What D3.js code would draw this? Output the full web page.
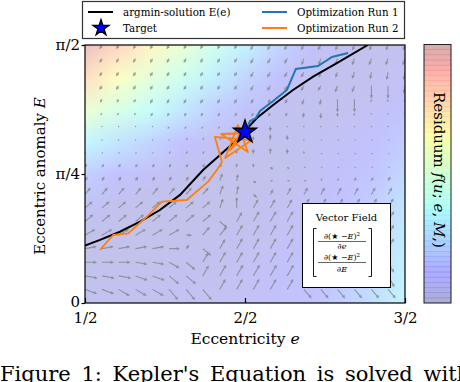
<!DOCTYPE html>
<html lang="en">
<head>
<meta charset="UTF-8">
<title>Kepler residual field</title>
<script src="https://d3js.org/d3.v7.min.js"></script>
<style>
  body { margin: 0; background: #fff; }
  svg { display: block; font-family: "DejaVu Serif", serif; }
</style>
</head>
<body>
<div id="chart"></div>
<script>
// ---- values ----
const eTicks = [0.5, 1, 1.5];
const eTickLabels = ["1/2", "2/2", "3/2"];
const ETicks = [0, Math.PI / 4, Math.PI / 2];
const ETickLabels = ["0", "π/4", "π/2"];

// argmin-solution E(e)
const curveEcc = [0.5, 0.547, 0.609, 0.672, 0.734, 0.797, 0.869, 0.922, 0.974, 1.037, 1.088, 1.150, 1.213, 1.287, 1.384];
const curveE   = [0.350, 0.384, 0.434, 0.495, 0.566, 0.658, 0.810, 0.901, 0.992, 1.126, 1.206, 1.297, 1.378, 1.461, 1.571];

// target
const targetEcc = 1.0;
const targetE = 1.041;

// optimization run 1 (blue)
const run1Ecc = [1.0, 1.016, 1.034, 1.047, 1.088, 1.131, 1.159, 1.228, 1.272, 1.322];
const run1E   = [1.041, 1.108, 1.126, 1.169, 1.230, 1.297, 1.425, 1.443, 1.498, 1.522];

// optimization run 2 (orange)
const run2Ecc = [0.547, 0.588, 0.635, 0.693, 0.740, 0.818, 0.885, 0.912, 0.928, 0.906, 1.022, 0.938, 0.978, 1.009, 0.925, 1.006, 0.953, 0.997, 1.0];
const run2E   = [0.323, 0.414, 0.424, 0.525, 0.617, 0.627, 0.739, 0.810, 0.858, 1.011, 0.992, 0.883, 1.084, 0.919, 1.029, 1.035, 0.931, 1.072, 1.041];

// residual background, level on the colour map (rows from E = pi/2 down to 0)
const resEcc = [0.5, 0.6, 0.7, 0.8, 0.9, 1.0, 1.1, 1.2, 1.3, 1.4, 1.5];
const resE = [Math.PI / 2, 7 * Math.PI / 16, 6 * Math.PI / 16, 5 * Math.PI / 16, 4 * Math.PI / 16,
              3 * Math.PI / 16, 2 * Math.PI / 16, Math.PI / 16, 0];
const resLevel = [
  [0.95, 0.82, 0.68, 0.55, 0.42, 0.32, 0.20, 0.10, 0.06, 0.05, 0.06],
  [0.78, 0.64, 0.52, 0.41, 0.31, 0.20, 0.10, 0.06, 0.05, 0.06, 0.08],
  [0.56, 0.46, 0.37, 0.28, 0.18, 0.10, 0.06, 0.05, 0.06, 0.08, 0.12],
  [0.34, 0.27, 0.20, 0.12, 0.07, 0.05, 0.05, 0.06, 0.08, 0.11, 0.17],
  [0.18, 0.12, 0.08, 0.05, 0.04, 0.04, 0.05, 0.07, 0.10, 0.14, 0.22],
  [0.08, 0.05, 0.04, 0.04, 0.04, 0.05, 0.06, 0.08, 0.12, 0.18, 0.27],
  [0.04, 0.04, 0.04, 0.05, 0.05, 0.06, 0.07, 0.10, 0.14, 0.21, 0.30],
  [0.05, 0.05, 0.05, 0.06, 0.06, 0.07, 0.09, 0.12, 0.16, 0.23, 0.32],
  [0.06, 0.06, 0.06, 0.07, 0.07, 0.08, 0.10, 0.13, 0.18, 0.25, 0.34]
];

// quiver grid
const fieldEcc = [0.5, 0.553, 0.605, 0.658, 0.711, 0.763, 0.816, 0.868, 0.921, 0.974,
                  1.026, 1.079, 1.132, 1.184, 1.237, 1.289, 1.342, 1.395, 1.447, 1.5];
const fieldE = [1.571, 1.488, 1.405, 1.323, 1.240, 1.157, 1.075, 0.992, 0.909, 0.827,
                0.744, 0.661, 0.579, 0.496, 0.413, 0.331, 0.248, 0.165, 0.083, 0];
// arrow direction per cell, base-36 digit x 10 degrees, run-length coded "<digit><count>"
const fieldDir = [
  "o15 p5", "o13 p7", "o14 p3 q3", "o15 p2 r2 q1", "o13 p1 q1 r2 q3",
  "o13 q1 r2 q4", "o11 r9", "610 94 06", "69 95 06", "69 92 w2 07",
  "68 7 8 w 03 66", "58 7 8 w 69", "48 7 9 610", "48 w 611", "36 0 52 611",
  "15 0 5 w 612", "03 z2 x w 611 u2", "z3 y2 w2 611 u2", "y2 x3 v3 65 v7", "v20"
];
// arrow magnitude per cell, base-36 digit, same coding
const fieldMag = [
  "510 610", "510 63 77", "510 66 72 82", "510 65 72 d2 8", "44 59 62 d2 33",
  "34 49 5 6 4 3 23", "15 35 2 5 18", "16 34 4 6 5 1 26", "25 34 4 5 6 5 3 26", "412 3 27",
  "57 6 8 7 4 35 42 52", "98 a 9 5 6 88", "a9 b a3 b7", "b8 a b c10", "c6 6 b2 c11",
  "c5 b 5 b b c11", "c7 b c12", "d7 c d12", "d5 e3 c12", "c20"
];

// ---- layout ----
const W = 460, H = 382;
const plot = { left: 85, right: 405, top: 45, bottom: 303 };

const svg = d3.select("#chart").append("svg")
  .attr("width", W).attr("height", H);

const x = d3.scaleLinear().domain([0.5, 1.5]).range([plot.left, plot.right]);
const y = d3.scaleLinear().domain([0, Math.PI / 2]).range([plot.bottom, plot.top]);

// matplotlib jet, channel by channel
const jetR = d3.scaleLinear().domain([0, 0.35, 0.66, 0.89, 1]).range([0, 0, 1, 1, 0.5]).clamp(true);
const jetG = d3.scaleLinear().domain([0, 0.125, 0.375, 0.64, 0.91, 1]).range([0, 0, 1, 1, 0, 0]).clamp(true);
const jetB = d3.scaleLinear().domain([0, 0.11, 0.34, 0.65, 1]).range([0.5, 1, 1, 0, 0]).clamp(true);
const jet = v => d3.rgb(jetR(v) * 255, jetG(v) * 255, jetB(v) * 255);

svg.append("defs").append("clipPath").attr("id", "plotclip")
  .append("rect")
  .attr("x", plot.left).attr("y", plot.top)
  .attr("width", plot.right - plot.left).attr("height", plot.bottom - plot.top);

const gPlot = svg.append("g").attr("clip-path", "url(#plotclip)");

// residual background: small image, smoothed by the browser when stretched
const cv = document.createElement("canvas");
cv.width = resEcc.length; cv.height = resE.length;
const ctx = cv.getContext("2d");
const img = ctx.createImageData(cv.width, cv.height);
resLevel.forEach((row, j) => row.forEach((v, i) => {
  const c = jet(v), k = (j * cv.width + i) * 4;
  img.data[k] = c.r; img.data[k + 1] = c.g; img.data[k + 2] = c.b; img.data[k + 3] = 255;
}));
ctx.putImageData(img, 0, 0);
const de = (resEcc[1] - resEcc[0]) / 2, dE = (resE[0] - resE[1]) / 2;
gPlot.append("image")
  .attr("href", cv.toDataURL())
  .attr("x", x(resEcc[0] - de)).attr("y", y(resE[0] + dE))
  .attr("width", x(resEcc[resEcc.length - 1] + de) - x(resEcc[0] - de))
  .attr("height", y(resE[resE.length - 1] - dE) - y(resE[0] + dE))
  .attr("preserveAspectRatio", "none")
  .attr("opacity", 0.24);

// quiver
const expand = s => s.split(" ").flatMap(t => Array(+(t.slice(1) || 1)).fill(t[0]));
const lenScale = d3.scaleLinear().domain([0, 15]).range([0, 15]);
const arrows = [];
fieldDir.forEach((row, r) => {
  const dirs = expand(row), mags = expand(fieldMag[r]);
  fieldEcc.forEach((ev, c) => {
    arrows.push({
      e: ev, E: fieldE[r],
      ang: parseInt(dirs[c], 36) * 10,
      len: lenScale(parseInt(mags[c], 36))
    });
  });
});

function arrowPath(L) {
  const w = 1.1, hl = 3.4, hw = 3.4;
  const s = Math.min(1, L / (hl * 1.4));
  const sw = w * Math.max(s, 0.7), HL = hl * s, HW = hw * s;
  return `M0,${-sw / 2}L${L - HL},${-sw / 2}L${L - HL},${-HW / 2}L${L},0` +
         `L${L - HL},${HW / 2}L${L - HL},${sw / 2}L0,${sw / 2}Z`;
}

const gq = gPlot.append("g").attr("fill", "#808080").attr("fill-opacity", 0.75);
arrows.forEach(a => {
  if (a.len < 2) {
    gq.append("circle").attr("cx", x(a.e)).attr("cy", y(a.E)).attr("r", 0.7);
  } else {
    gq.append("path")
      .attr("d", arrowPath(a.len))
      .attr("transform", `translate(${x(a.e)},${y(a.E)}) rotate(${-a.ang})`);
  }
});

// lines
const line = d3.line().x(d => x(d[0])).y(d => y(d[1]));
gPlot.append("path").datum(d3.zip(curveEcc, curveE))
  .attr("d", line).attr("fill", "none").attr("stroke", "#000").attr("stroke-width", 2);
gPlot.append("path").datum(d3.zip(run1Ecc, run1E))
  .attr("d", line).attr("fill", "none").attr("stroke", "#1f77b4").attr("stroke-width", 2);
gPlot.append("path").datum(d3.zip(run2Ecc, run2E))
  .attr("d", line).attr("fill", "none").attr("stroke", "#ff7f0e").attr("stroke-width", 1.8)
  .attr("stroke-linejoin", "round");

const star = d3.symbol(d3.symbolStar);
gPlot.append("path")
  .attr("d", star.size(165)())
  .attr("transform", `translate(${x(targetEcc)},${y(targetE)})`)
  .attr("fill", "#0000ff").attr("stroke", "#000").attr("stroke-width", 1.3);

// vector field annotation box
const box = svg.append("g");
box.append("rect").attr("x", 302.5).attr("y", 203.5).attr("width", 88).attr("height", 84)
  .attr("fill", "#fff").attr("stroke", "#000").attr("stroke-width", 1);
box.append("text").attr("x", 346.5).attr("y", 221).attr("text-anchor", "middle")
  .attr("font-size", 10).text("Vector Field");
box.append("path").attr("d", "M316.5,228.5H313.5V276.5H316.5M368.5,228.5H371.5V276.5H368.5")
  .attr("fill", "none").attr("stroke", "#000").attr("stroke-width", 0.9);
[[239, 241.5, 249, "e"], [260, 262.5, 272, "E"]].forEach(([yn, yb, yd, v]) => {
  const t = box.append("text").attr("x", 342).attr("y", yn).attr("text-anchor", "middle").attr("font-size", 8);
  t.append("tspan").text("∂(");
  t.append("tspan").attr("font-family", "DejaVu Sans").attr("font-size", 8).text("★");
  t.append("tspan").text(" −");
  t.append("tspan").attr("font-style", "italic").text("E");
  t.append("tspan").text(")");
  t.append("tspan").attr("font-size", 5.5).attr("dy", -3).text("2");
  box.append("line").attr("x1", 318).attr("x2", 366).attr("y1", yb).attr("y2", yb)
    .attr("stroke", "#000").attr("stroke-width", 0.6);
  const d = box.append("text").attr("x", 342).attr("y", yd).attr("text-anchor", "middle").attr("font-size", 8);
  d.append("tspan").text("∂");
  d.append("tspan").attr("font-style", "italic").text(v);
});

// frame and ticks
svg.append("rect").attr("x", plot.left).attr("y", plot.top)
  .attr("width", plot.right - plot.left).attr("height", plot.bottom - plot.top)
  .attr("fill", "none").attr("stroke", "#000").attr("stroke-width", 1.2);

const xAxis = svg.append("g").attr("transform", `translate(0,${plot.bottom})`)
  .call(d3.axisBottom(x).tickValues(eTicks).tickFormat((d, i) => eTickLabels[i]).tickSizeInner(-5).tickSizeOuter(0).tickPadding(9));
const yAxis = svg.append("g").attr("transform", `translate(${plot.left},0)`)
  .call(d3.axisLeft(y).tickValues(ETicks).tickFormat((d, i) => ETickLabels[i]).tickSizeInner(3.5).tickSizeOuter(0).tickPadding(1.5));
[xAxis, yAxis].forEach(g => {
  g.select(".domain").remove();
  g.selectAll("line").attr("stroke", "#000").attr("stroke-width", 1.2);
  g.selectAll("text").attr("font-family", "DejaVu Serif").attr("font-size", 15).attr("fill", "#000");
});
// lift the bottom y label a touch, as in the figure
yAxis.selectAll(".tick text").filter(d => d === 0).attr("dy", "0.2em");

// axis labels
const xl = svg.append("text").attr("x", 245).attr("y", 344).attr("text-anchor", "middle").attr("font-size", 15.5);
xl.append("tspan").text("Eccentricity ");
xl.append("tspan").attr("font-style", "italic").text("e");
const yl = svg.append("text").attr("transform", "translate(45,176) rotate(-90)").attr("text-anchor", "middle").attr("font-size", 15);
yl.append("tspan").text("Eccentric anomaly ");
yl.append("tspan").attr("font-style", "italic").text("E");

// colour bar
const cb = { x: 424, y: 44.5, w: 27, h: 258.5 };
const nBands = 50;
const cbScale = d3.scaleLinear().domain([0, 1]).range([cb.y + cb.h, cb.y]);
const gcb = svg.append("g");
d3.range(nBands).forEach(k => {
  const v0 = k / nBands, v1 = (k + 1) / nBands;
  const c = jet((v0 + v1) / 2);
  gcb.append("rect").attr("x", cb.x).attr("y", cbScale(v1)).attr("width", cb.w)
    .attr("height", cbScale(v0) - cbScale(v1))
    .attr("fill", c).attr("fill-opacity", 0.32)
    .attr("stroke", c).attr("stroke-opacity", 0.12).attr("stroke-width", 0.6);
});
gcb.append("rect").attr("x", cb.x).attr("y", cb.y).attr("width", cb.w).attr("height", cb.h)
  .attr("fill", "none").attr("stroke", "#222").attr("stroke-width", 1);
const cl = svg.append("text").attr("transform", "translate(434,170) rotate(90)")
  .attr("text-anchor", "middle").attr("font-size", 15);
cl.append("tspan").text("Residuum ");
cl.append("tspan").attr("font-style", "italic").text("f");
cl.append("tspan").text("(");
cl.append("tspan").attr("font-style", "italic").text("u");
cl.append("tspan").text("; ");
cl.append("tspan").attr("font-style", "italic").text("e");
cl.append("tspan").text(", ");
cl.append("tspan").attr("font-style", "italic").text("M");
cl.append("tspan").text(",)");

// legend
const lg = svg.append("g");
lg.append("rect").attr("x", 82.5).attr("y", 1.5).attr("width", 322).attr("height", 37)
  .attr("fill", "#fff").attr("stroke", "#333").attr("stroke-width", 1.2);
const legendItems = [
  { label: "argmin-solution E(e)", color: "#000", lx: 88, ly: 12 },
  { label: "Target", color: null, lx: 88, ly: 28 },
  { label: "Optimization Run 1", color: "#1f77b4", lx: 262, ly: 12 },
  { label: "Optimization Run 2", color: "#ff7f0e", lx: 262, ly: 28 }
];
legendItems.forEach(it => {
  if (it.color) {
    lg.append("line").attr("x1", it.lx).attr("x2", it.lx + 25).attr("y1", it.ly).attr("y2", it.ly)
      .attr("stroke", it.color).attr("stroke-width", 2);
  } else {
    lg.append("path").attr("d", star.size(80)()).attr("transform", `translate(${it.lx + 13},${it.ly})`)
      .attr("fill", "#0000ff").attr("stroke", "#000").attr("stroke-width", 1.3);
  }
  lg.append("text").attr("x", it.lx + 35).attr("y", it.ly + 4).attr("font-size", 10.3).text(it.label);
});

// caption (cut by the page edge, as in the source figure)
svg.append("text").attr("x", 0).attr("y", 381).attr("font-size", 21)
  .attr("word-spacing", 4).text("Figure 1: Kepler's Equation is solved with a");
</script>
</body>
</html>
